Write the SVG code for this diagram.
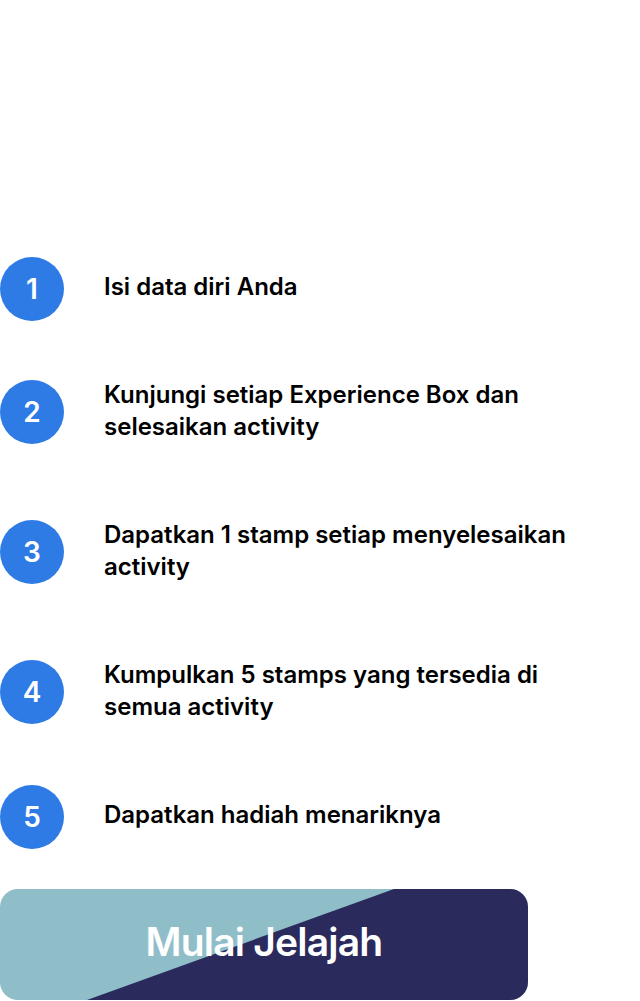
<svg xmlns="http://www.w3.org/2000/svg" width="640" height="1001" viewBox="0 0 640 1001">
<style>
.c{fill:#2F7BE6}
.n{font-family:Inter,"Open Sans",sans-serif;font-weight:600;font-size:28px;fill:#fff;text-anchor:middle}
.t{font-family:Inter,"Open Sans",sans-serif;font-weight:600;font-size:24px;fill:#000;letter-spacing:0px}
.b{font-family:Inter,"Open Sans",sans-serif;font-weight:600;font-size:39px;fill:#fff;text-anchor:middle;letter-spacing:-0.8px}
</style>
<defs>
<clipPath id="btnclip"><rect x="0" y="889" width="528" height="111" rx="18"/></clipPath>
</defs>
<rect width="640" height="1001" fill="#fff"/>
<g id="step1"><circle class="c" cx="32" cy="289" r="32"/><text class="n" x="32" y="299">1</text><text class="t" x="104" y="295">Isi data diri Anda</text></g>
<g id="step2"><circle class="c" cx="32" cy="412" r="32"/><text class="n" x="32" y="422">2</text><text class="t" x="104" y="403">Kunjungi setiap Experience Box dan</text><text class="t" x="104" y="435">selesaikan activity</text></g>
<g id="step3"><circle class="c" cx="32" cy="552" r="32"/><text class="n" x="32" y="562">3</text><text class="t" x="104" y="543">Dapatkan 1 stamp setiap menyelesaikan</text><text class="t" x="104" y="575">activity</text></g>
<g id="step4"><circle class="c" cx="32" cy="692" r="32"/><text class="n" x="32" y="702">4</text><text class="t" x="104" y="683">Kumpulkan 5 stamps yang tersedia di</text><text class="t" x="104" y="715">semua activity</text></g>
<g id="step5"><circle class="c" cx="32" cy="817" r="32"/><text class="n" x="32" y="827">5</text><text class="t" x="104" y="823">Dapatkan hadiah menariknya</text></g>
<g id="button">
<g clip-path="url(#btnclip)">
<rect x="0" y="889" width="528" height="111" fill="#8FBEC9"/>
<polygon points="394,889 528,889 528,1000 87,1000" fill="#2B2A5C"/>
</g>
<text class="b" x="264" y="956">Mulai Jelajah</text>
</g>
<g id="connectors"/>
</svg>
